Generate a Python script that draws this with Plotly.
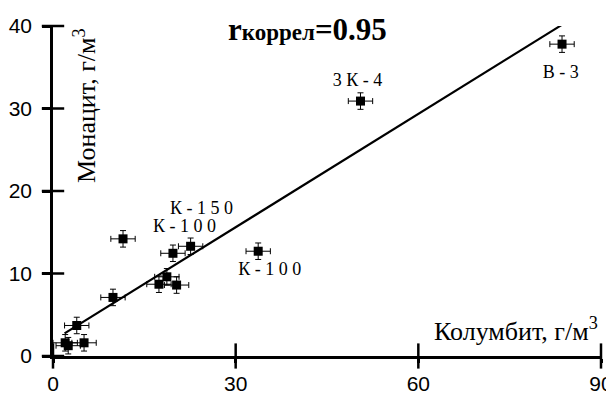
import plotly.graph_objects as go

# Data
columbite = [2.0, 2.5, 5.1, 3.9, 9.85, 11.5, 17.4, 18.7, 19.7, 20.3, 22.6, 33.7, 50.5, 83.6]
monazite = [1.6, 1.25, 1.6, 3.7, 7.1, 14.2, 8.7, 9.6, 12.45, 8.6, 13.3, 12.7, 30.9, 37.8]
columbite_err = [2.0, 2.0, 2.0, 2.0, 2.0, 2.0, 2.0, 2.0, 2.0, 2.0, 2.0, 2.0, 2.0, 2.0]
monazite_err = [1.0, 1.0, 1.0, 1.0, 1.0, 1.0, 1.0, 1.0, 1.0, 1.0, 1.0, 1.0, 1.0, 1.0]

trend_x = [1.9, 83.5]
trend_y = [2.75, 40.1]

point_labels = ["К - 1 5 0", "К - 1 0 0", "К - 1 0 0", "3 К - 4", "В - 3"]
label_x = [24.4, 21.6, 35.6, 50.0, 83.4]
label_y = [17.8, 15.6, 10.4, 33.3, 34.3]

x_ticks = [0, 30, 60, 90]
y_ticks = [0, 10, 20, 30, 40]

SERIF = "Liberation Serif, Times New Roman, serif"
SANS = "Liberation Sans, Arial, sans-serif"

fig = go.Figure()

# tick marks crossing the axes
fig.add_trace(go.Scatter(
    x=x_ticks, y=[0] * len(x_ticks), mode="markers",
    marker=dict(symbol="line-ns", size=18, line=dict(width=2.5, color="black")),
    cliponaxis=False, showlegend=False, hoverinfo="skip"))
fig.add_trace(go.Scatter(
    x=[0] * len(y_ticks), y=y_ticks, mode="markers",
    marker=dict(symbol="line-ew", size=16, line=dict(width=2.5, color="black")),
    cliponaxis=False, showlegend=False, hoverinfo="skip"))

# regression line
fig.add_trace(go.Scatter(
    x=trend_x, y=trend_y, mode="lines",
    line=dict(color="black", width=2.2), showlegend=False, hoverinfo="skip"))

# data points with error bars
fig.add_trace(go.Scatter(
    x=columbite, y=monazite, mode="markers",
    marker=dict(symbol="square", size=9, color="black"),
    error_x=dict(type="data", array=columbite_err, color="black", thickness=1, width=3),
    error_y=dict(type="data", array=monazite_err, color="black", thickness=1, width=3),
    cliponaxis=False, showlegend=False))

# point labels
fig.add_trace(go.Scatter(
    x=label_x, y=label_y, mode="text", text=point_labels,
    textfont=dict(family=SERIF, size=18, color="black"),
    cliponaxis=False, showlegend=False, hoverinfo="skip"))

annotations = [
    dict(x=0.465, y=0.988, xref="paper", yref="paper", xanchor="center", yanchor="middle",
         showarrow=False,
         text="<b><span style='font-size:31px'>r</span><span style='font-size:23px'>коррел</span>"
              "<span style='font-size:31px'>=0.95</span></b>",
         font=dict(family=SERIF, color="black")),
    dict(x=0.058, y=0.76, xref="paper", yref="paper", xanchor="center", yanchor="middle",
         showarrow=False, textangle=-90,
         text="Монацит, г/м<sup>3</sup>",
         font=dict(family=SERIF, size=26, color="black")),
    dict(x=0.998, y=0.079, xref="paper", yref="paper", xanchor="right", yanchor="middle",
         showarrow=False,
         text="Колумбит, г/м<sup>3</sup>",
         font=dict(family=SERIF, size=26, color="black")),
]

# page has an 8px body margin, so the figure is drawn 8px smaller
fig.update_layout(
    width=606, height=388,
    margin=dict(l=45, r=13, t=18, b=40),
    paper_bgcolor="white", plot_bgcolor="white",
    annotations=annotations,
    xaxis=dict(range=[0, 90], tickvals=x_ticks, showgrid=False, zeroline=False,
               automargin=False,
               showline=True, linecolor="black", linewidth=2.5,
               ticks="outside", ticklen=4, tickwidth=2.5, tickcolor="black",
               ticklabelstandoff=3,
               tickfont=dict(family=SANS, size=21, color="black")),
    yaxis=dict(range=[0, 40], tickvals=y_ticks, showgrid=False, zeroline=False,
               automargin=False,
               showline=True, linecolor="black", linewidth=2.5,
               ticks="outside", ticklen=8, tickwidth=2.5, tickcolor="black",
               ticklabelstandoff=6,
               tickfont=dict(family=SANS, size=21, color="black")),
)

fig.write_html("out.html")
